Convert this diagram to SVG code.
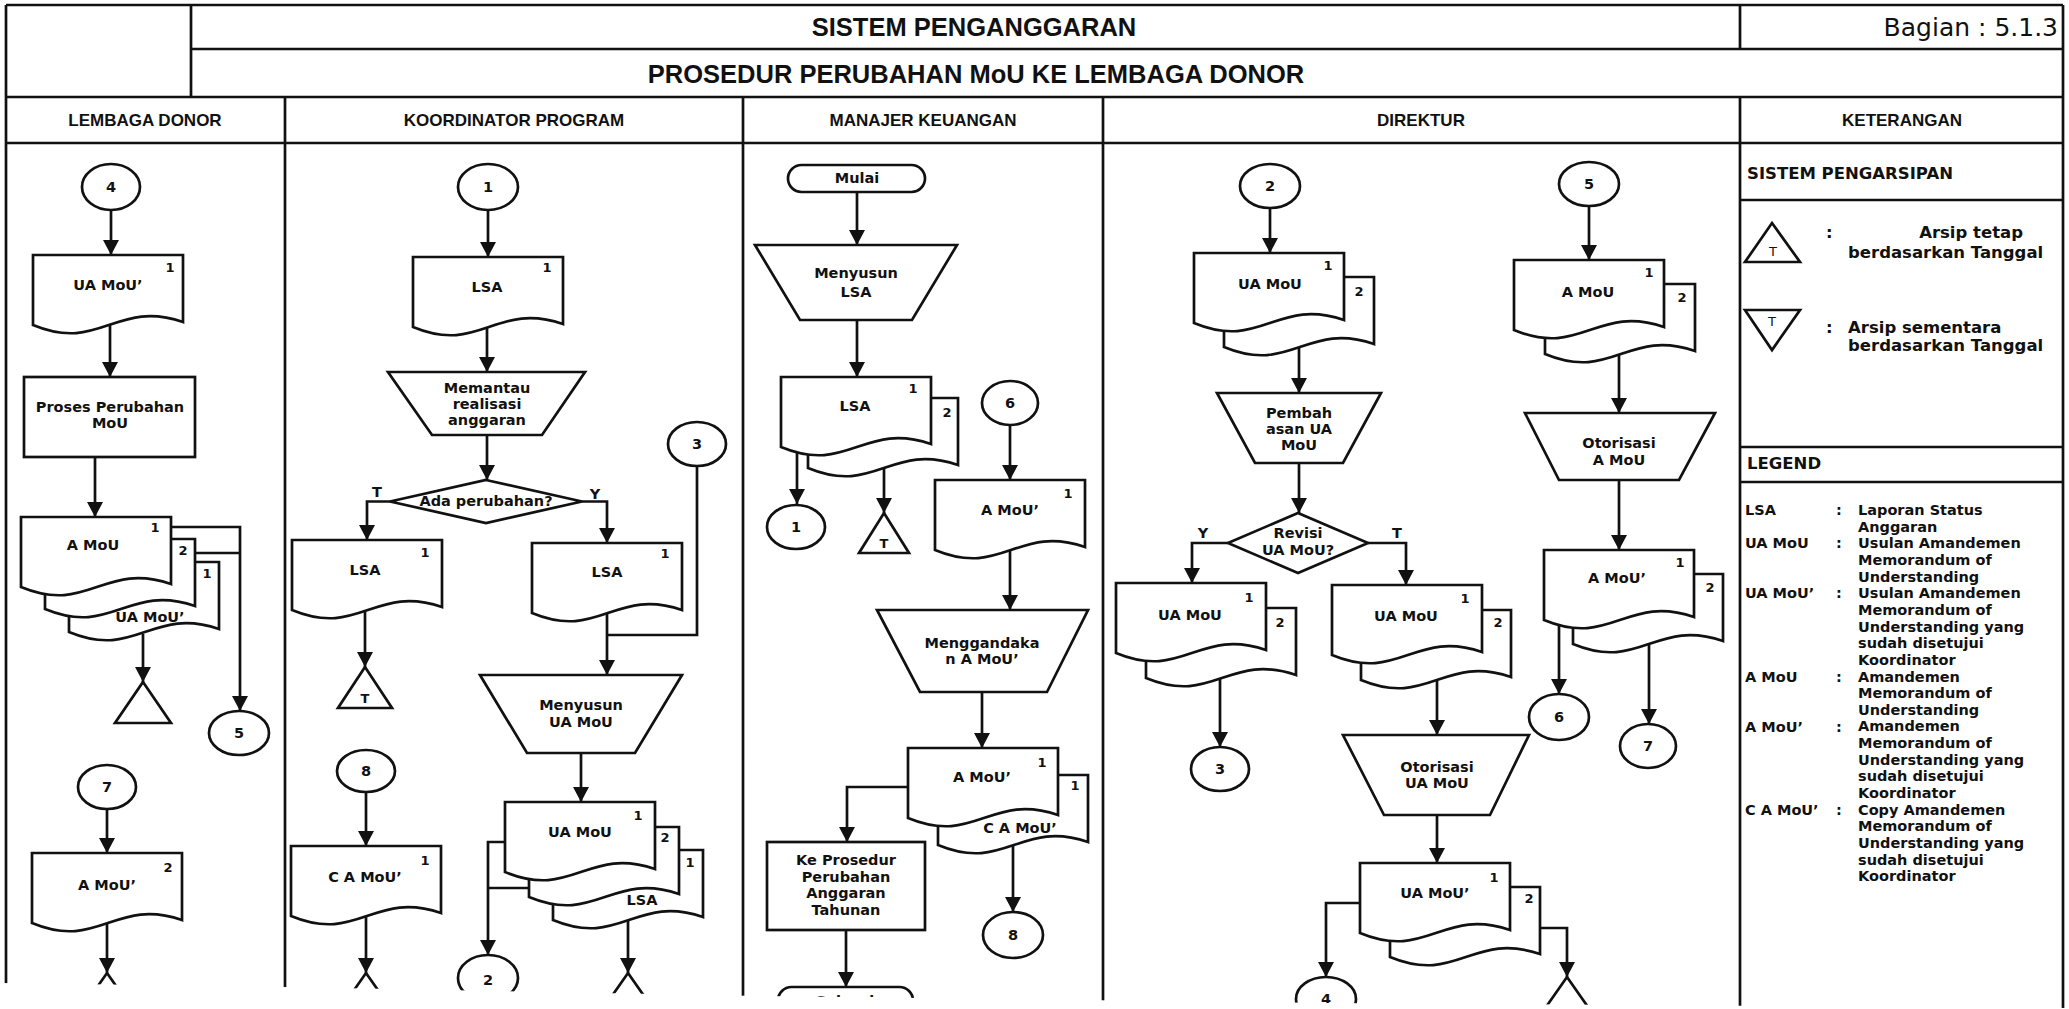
<svg xmlns="http://www.w3.org/2000/svg" width="2069" height="1009" viewBox="0 0 2069 1009">
<style>
.ln{fill:none;stroke:#111;stroke-width:2.7}
.sh{fill:#fff;stroke:#111;stroke-width:2.7}
.fr{fill:none;stroke:#111;stroke-width:2.7}
text{fill:#111}
.t{font-family:"DejaVu Sans",sans-serif;font-weight:bold;font-size:14.5px;text-anchor:middle}
.n{font-family:"DejaVu Sans",sans-serif;font-weight:bold;font-size:13px;text-anchor:middle}
.ti{font-family:"Liberation Sans",Arial,sans-serif;font-weight:bold;font-size:25.5px;text-anchor:middle}
.hd{font-family:"Liberation Sans",Arial,sans-serif;font-weight:bold;font-size:17px;text-anchor:middle}
.bg{font-family:"DejaVu Sans",sans-serif;font-size:25px;text-anchor:end}
.k{font-family:"DejaVu Sans",sans-serif;font-weight:bold;font-size:16.5px}
.lg{font-family:"DejaVu Sans",sans-serif;font-weight:bold;font-size:14.5px}
.tt{font-family:"DejaVu Sans",sans-serif;font-size:13px;text-anchor:middle}
.ar{marker-end:url(#ah)}
</style>
<defs>
<marker id="ah" viewBox="0 0 15 16" refX="15" refY="8" markerWidth="15" markerHeight="16" orient="auto" markerUnits="userSpaceOnUse"><path d="M0,0L15,8L0,16Z" fill="#111"/></marker>
<!-- flowchart document symbol, 150 x 70 with wavy bottom -->
<path id="doc" d="M0,0H150V67C82.5,44 67.5,98 0,70Z"/>
<clipPath id="page"><polygon points="0,0 2069,0 2069,1008 1326,1003 1000,999 760,996 285,987 0,983"/></clipPath>
</defs>
<rect width="2069" height="1009" fill="#fff"/>
<g clip-path="url(#page)">

<!-- frame, header rows and swimlanes -->
<g id="frame">
<path class="fr" d="M6,5H2063M6,5V1009M2063,5V1009M191,5V97M191,49H2063M1740,5V49M6,97H2063M6,143H2063M285,97V1009M743,97V1009M1103,97V1009M1740,97V1009M1740,200H2063M1740,447H2063M1740,482H2063"/>
<text class="ti" x="974" y="36">SISTEM PENGANGGARAN</text>
<text class="bg" x="2058" y="36">Bagian : 5.1.3</text>
<text class="ti" x="976" y="83">PROSEDUR PERUBAHAN MoU KE LEMBAGA DONOR</text>
<text class="hd" x="145" y="126">LEMBAGA DONOR</text>
<text class="hd" x="514" y="126">KOORDINATOR PROGRAM</text>
<text class="hd" x="923" y="126">MANAJER KEUANGAN</text>
<text class="hd" x="1421" y="126">DIREKTUR</text>
<text class="hd" x="1902" y="126">KETERANGAN</text>
</g>

<!-- connectors -->
<g id="connectors">
<path class="ln ar" d="M111,210V255"/>
<path class="ln ar" d="M110,325V377"/>
<path class="ln ar" d="M95,457V517"/>
<path class="ln ar" d="M171,527H240V711"/>
<path class="ln" d="M195,553H240"/>
<path class="ln ar" d="M143,634V682"/>
<path class="ln ar" d="M107,809V853"/>
<path class="ln ar" d="M107,923V973"/>

<path class="ln ar" d="M488,210V257"/>
<path class="ln ar" d="M487,327V372"/>
<path class="ln ar" d="M487,435V480"/>
<path class="ln ar" d="M390,501.5H367V540"/>
<path class="ln ar" d="M582,501.5H607V543"/>
<path class="ln ar" d="M365,611V667"/>
<path class="ln" d="M697,466V635H607"/>
<path class="ln ar" d="M607,613V675"/>
<path class="ln ar" d="M581,753V802"/>
<path class="ln ar" d="M505,842H488V955"/>
<path class="ln" d="M529,888H488"/>
<path class="ln ar" d="M628,920V973"/>
<path class="ln ar" d="M366,792V846"/>
<path class="ln ar" d="M366,916V973"/>

<path class="ln ar" d="M857,192V245"/>
<path class="ln ar" d="M857,320V377"/>
<path class="ln ar" d="M797,452V504"/>
<path class="ln ar" d="M884,468V513"/>
<path class="ln ar" d="M1010,425V480"/>
<path class="ln ar" d="M1010,550V610"/>
<path class="ln ar" d="M982,692V748"/>
<path class="ln ar" d="M908,787H847V842"/>
<path class="ln ar" d="M846,930V987"/>
<path class="ln ar" d="M1013,845V912"/>

<path class="ln ar" d="M1270,208V253"/>
<path class="ln ar" d="M1299,347V393"/>
<path class="ln ar" d="M1299,463V513"/>
<path class="ln ar" d="M1228,543H1192V583"/>
<path class="ln ar" d="M1368,543H1406V585"/>
<path class="ln ar" d="M1220,678V747"/>
<path class="ln ar" d="M1437,680V735"/>
<path class="ln ar" d="M1437,815V863"/>
<path class="ln ar" d="M1360,903H1326V977"/>
<path class="ln ar" d="M1540,928H1567V977"/>
<path class="ln ar" d="M1589,206V260"/>
<path class="ln ar" d="M1619,354V413"/>
<path class="ln ar" d="M1619,480V550"/>
<path class="ln ar" d="M1559,624V694"/>
<path class="ln ar" d="M1649,644V724"/>
</g>

<!-- LEMBAGA DONOR -->
<g id="ld-c4"><ellipse class="sh" cx="111" cy="187" rx="29" ry="23"/><text class="t" x="111" y="192">4</text></g>
<g id="ld-uamou"><use href="#doc" class="sh" x="33" y="255"/><text class="n" x="170" y="272">1</text><text class="t" x="108" y="290">UA MoU’</text></g>
<g id="ld-proses"><rect class="sh" x="24" y="377" width="171" height="80"/><text class="t" x="110" y="412">Proses Perubahan</text><text class="t" x="110" y="428">MoU</text></g>
<g id="ld-amou">
<use href="#doc" class="sh" x="69" y="562"/><use href="#doc" class="sh" x="45" y="539"/><use href="#doc" class="sh" x="21" y="517"/>
<text class="n" x="155" y="532">1</text><text class="t" x="93" y="550">A MoU</text>
<text class="n" x="183" y="555">2</text><text class="n" x="207" y="578">1</text>
<text class="t" x="150" y="622">UA MoU’</text>
</g>
<g id="ld-c5"><ellipse class="sh" cx="239" cy="733" rx="30" ry="22"/><text class="t" x="239" y="738">5</text></g>
<g id="ld-arsip"><polygon class="sh" points="143,682 171,723 115,723"/></g>
<g id="ld-c7"><ellipse class="sh" cx="107" cy="787" rx="29" ry="22"/><text class="t" x="107" y="792">7</text></g>
<g id="ld-amou2"><use href="#doc" class="sh" x="32" y="853"/><text class="n" x="168" y="872">2</text><text class="t" x="107" y="890">A MoU’</text></g>
<g id="ld-arsip2"><polygon class="sh" points="107,973 135,1013 79,1013"/></g>

<!-- KOORDINATOR PROGRAM -->
<g id="kp-c1"><ellipse class="sh" cx="488" cy="187" rx="30" ry="23"/><text class="t" x="488" y="192">1</text></g>
<g id="kp-lsa"><use href="#doc" class="sh" x="413" y="257"/><text class="n" x="547" y="272">1</text><text class="t" x="487" y="292">LSA</text></g>
<g id="kp-memantau"><polygon class="sh" points="388,372 585,372 542,435 432,435"/><text class="t" x="487" y="393">Memantau</text><text class="t" x="487" y="409">realisasi</text><text class="t" x="487" y="425">anggaran</text></g>
<g id="kp-ada"><polygon class="sh" points="486,480 582,501.5 486,523 390,501.5"/><text class="t" x="486" y="506">Ada perubahan?</text><text class="t" x="377" y="497">T</text><text class="t" x="595" y="499">Y</text></g>
<g id="kp-lsa-t"><use href="#doc" class="sh" x="292" y="540"/><text class="n" x="425" y="557">1</text><text class="t" x="365" y="575">LSA</text></g>
<g id="kp-arsip-t"><polygon class="sh" points="365,667 392,708 338,708"/><text class="n" x="365" y="703">T</text></g>
<g id="kp-lsa-y"><use href="#doc" class="sh" x="532" y="543"/><text class="n" x="665" y="558">1</text><text class="t" x="607" y="577">LSA</text></g>
<g id="kp-c3"><ellipse class="sh" cx="697" cy="444" rx="29" ry="22"/><text class="t" x="697" y="449">3</text></g>
<g id="kp-menyusun"><polygon class="sh" points="480,675 682,675 635,753 527,753"/><text class="t" x="581" y="710">Menyusun</text><text class="t" x="581" y="727">UA MoU</text></g>
<g id="kp-uamou">
<use href="#doc" class="sh" x="553" y="850"/><use href="#doc" class="sh" x="529" y="827"/><use href="#doc" class="sh" x="505" y="802"/>
<text class="n" x="638" y="820">1</text><text class="t" x="580" y="837">UA MoU</text>
<text class="n" x="665" y="842">2</text><text class="n" x="690" y="867">1</text>
<text class="t" x="642" y="905">LSA</text>
</g>
<g id="kp-c2"><ellipse class="sh" cx="488" cy="978" rx="30" ry="23"/><text class="t" x="488" y="985">2</text></g>
<g id="kp-arsip-lsa"><polygon class="sh" points="628,973 656,1013 600,1013"/></g>
<g id="kp-c8"><ellipse class="sh" cx="366" cy="771" rx="29" ry="21"/><text class="t" x="366" y="776">8</text></g>
<g id="kp-camou"><use href="#doc" class="sh" x="291" y="846"/><text class="n" x="425" y="865">1</text><text class="t" x="365" y="882">C A MoU’</text></g>
<g id="kp-arsip-camou"><polygon class="sh" points="366,973 394,1013 338,1013"/></g>

<!-- MANAJER KEUANGAN -->
<g id="mk-mulai"><rect class="sh" x="788" y="165" width="137" height="27" rx="13.5"/><text class="t" x="857" y="183">Mulai</text></g>
<g id="mk-menyusun"><polygon class="sh" points="755,245 957,245 912,320 800,320"/><text class="t" x="856" y="278">Menyusun</text><text class="t" x="856" y="297">LSA</text></g>
<g id="mk-lsa">
<use href="#doc" class="sh" x="808" y="398"/><use href="#doc" class="sh" x="781" y="377"/>
<text class="n" x="913" y="393">1</text><text class="t" x="855" y="411">LSA</text><text class="n" x="947" y="417">2</text>
</g>
<g id="mk-c1"><ellipse class="sh" cx="796" cy="527" rx="29" ry="22"/><text class="t" x="796" y="532">1</text></g>
<g id="mk-arsip-t"><polygon class="sh" points="884,513 909,553 859,553"/><text class="n" x="884" y="548">T</text></g>
<g id="mk-c6"><ellipse class="sh" cx="1010" cy="403" rx="28" ry="22"/><text class="t" x="1010" y="408">6</text></g>
<g id="mk-amou"><use href="#doc" class="sh" x="935" y="480"/><text class="n" x="1068" y="498">1</text><text class="t" x="1010" y="515">A MoU’</text></g>
<g id="mk-menggandakan"><polygon class="sh" points="877,610 1088,610 1047,692 920,692"/><text class="t" x="982" y="648">Menggandaka</text><text class="t" x="982" y="664">n A MoU’</text></g>
<g id="mk-amou-copy">
<use href="#doc" class="sh" x="938" y="775"/><use href="#doc" class="sh" x="908" y="748"/>
<text class="n" x="1042" y="767">1</text><text class="t" x="982" y="782">A MoU’</text>
<text class="n" x="1075" y="790">1</text><text class="t" x="1020" y="833">C A MoU’</text>
</g>
<g id="mk-keprosedur"><rect class="sh" x="767" y="842" width="158" height="88"/><text class="t" x="846" y="865">Ke Prosedur</text><text class="t" x="846" y="882">Perubahan</text><text class="t" x="846" y="898">Anggaran</text><text class="t" x="846" y="915">Tahunan</text></g>
<g id="mk-selesai"><rect class="sh" x="778" y="987" width="135" height="27" rx="13.5"/><text class="t" x="845" y="1006">Selesai</text></g>
<g id="mk-c8"><ellipse class="sh" cx="1013" cy="935" rx="30" ry="23"/><text class="t" x="1013" y="940">8</text></g>

<!-- DIREKTUR -->
<g id="dr-c2"><ellipse class="sh" cx="1270" cy="186" rx="30" ry="22"/><text class="t" x="1270" y="191">2</text></g>
<g id="dr-uamou">
<use href="#doc" class="sh" x="1224" y="277"/><use href="#doc" class="sh" x="1194" y="253"/>
<text class="n" x="1328" y="270">1</text><text class="t" x="1270" y="289">UA MoU</text><text class="n" x="1359" y="296">2</text>
</g>
<g id="dr-pembahasan"><polygon class="sh" points="1217,393 1381,393 1343,463 1255,463"/><text class="t" x="1299" y="418">Pembah</text><text class="t" x="1299" y="434">asan UA</text><text class="t" x="1299" y="450">MoU</text></g>
<g id="dr-revisi"><polygon class="sh" points="1298,513 1368,543 1298,573 1228,543"/><text class="t" x="1298" y="538">Revisi</text><text class="t" x="1298" y="555">UA MoU?</text><text class="t" x="1203" y="538">Y</text><text class="t" x="1397" y="538">T</text></g>
<g id="dr-uamou-y">
<use href="#doc" class="sh" x="1146" y="608"/><use href="#doc" class="sh" x="1116" y="583"/>
<text class="n" x="1249" y="602">1</text><text class="t" x="1190" y="620">UA MoU</text><text class="n" x="1280" y="627">2</text>
</g>
<g id="dr-c3"><ellipse class="sh" cx="1220" cy="769" rx="29" ry="22"/><text class="t" x="1220" y="774">3</text></g>
<g id="dr-uamou-t">
<use href="#doc" class="sh" x="1361" y="610"/><use href="#doc" class="sh" x="1332" y="585"/>
<text class="n" x="1465" y="603">1</text><text class="t" x="1406" y="621">UA MoU</text><text class="n" x="1498" y="627">2</text>
</g>
<g id="dr-otorisasi-ua"><polygon class="sh" points="1343,735 1529,735 1490,815 1384,815"/><text class="t" x="1437" y="772">Otorisasi</text><text class="t" x="1437" y="788">UA MoU</text></g>
<g id="dr-uamou2">
<use href="#doc" class="sh" x="1390" y="887"/><use href="#doc" class="sh" x="1360" y="863"/>
<text class="n" x="1494" y="882">1</text><text class="t" x="1435" y="898">UA MoU’</text><text class="n" x="1529" y="903">2</text>
</g>
<g id="dr-c4"><ellipse class="sh" cx="1326" cy="999" rx="30" ry="22"/><text class="t" x="1326" y="1004">4</text></g>
<g id="dr-arsip"><polygon class="sh" points="1567,977 1595,1017 1539,1017"/></g>
<g id="dr-c5"><ellipse class="sh" cx="1589" cy="184" rx="30" ry="22"/><text class="t" x="1589" y="189">5</text></g>
<g id="dr-amou">
<use href="#doc" class="sh" x="1545" y="284"/><use href="#doc" class="sh" x="1514" y="260"/>
<text class="n" x="1649" y="277">1</text><text class="t" x="1588" y="297">A MoU</text><text class="n" x="1682" y="302">2</text>
</g>
<g id="dr-otorisasi-a"><polygon class="sh" points="1525,413 1715,413 1679,480 1559,480"/><text class="t" x="1619" y="448">Otorisasi</text><text class="t" x="1619" y="465">A MoU</text></g>
<g id="dr-amou2">
<use href="#doc" class="sh" x="1573" y="574"/><use href="#doc" class="sh" x="1544" y="550"/>
<text class="n" x="1680" y="567">1</text><text class="t" x="1617" y="583">A MoU’</text><text class="n" x="1710" y="592">2</text>
</g>
<g id="dr-c6"><ellipse class="sh" cx="1559" cy="717" rx="30" ry="23"/><text class="t" x="1559" y="722">6</text></g>
<g id="dr-c7"><ellipse class="sh" cx="1648" cy="746" rx="28" ry="22"/><text class="t" x="1648" y="751">7</text></g>

<!-- KETERANGAN: filing symbols and legend -->
<g id="ket-arsip">
<text class="k" x="1747" y="179">SISTEM PENGARSIPAN</text>
<polygon class="sh" points="1772,223 1800,262 1745,262"/><text class="tt" x="1773" y="256">T</text>
<text class="k" x="1826" y="238">:</text>
<text class="k" x="2023" y="238" text-anchor="end">Arsip tetap</text>
<text class="k" x="1848" y="258">berdasarkan Tanggal</text>
<polygon class="sh" points="1745,310 1800,310 1772,350"/><text class="tt" x="1772" y="326">T</text>
<text class="k" x="1826" y="333">:</text>
<text class="k" x="1848" y="333">Arsip sementara</text>
<text class="k" x="1848" y="351">berdasarkan Tanggal</text>
</g>
<g id="ket-legend">
<text class="k" x="1747" y="469">LEGEND</text>
<text class="lg" x="1745" y="515">LSA</text>
<text class="lg" x="1745" y="548.3">UA MoU</text>
<text class="lg" x="1745" y="598.3">UA MoU’</text>
<text class="lg" x="1745" y="681.5">A MoU</text>
<text class="lg" x="1745" y="731.5">A MoU’</text>
<text class="lg" x="1745" y="814.7">C A MoU’</text>
<text class="lg" x="1836" y="515">:</text>
<text class="lg" x="1836" y="548.3">:</text>
<text class="lg" x="1836" y="598.3">:</text>
<text class="lg" x="1836" y="681.5">:</text>
<text class="lg" x="1836" y="731.5">:</text>
<text class="lg" x="1836" y="814.7">:</text>
<text class="lg" x="1858" y="515">Laporan Status<tspan x="1858" dy="16.65">Anggaran</tspan><tspan x="1858" dy="16.65">Usulan Amandemen</tspan><tspan x="1858" dy="16.65">Memorandum of</tspan><tspan x="1858" dy="16.65">Understanding</tspan><tspan x="1858" dy="16.65">Usulan Amandemen</tspan><tspan x="1858" dy="16.65">Memorandum of</tspan><tspan x="1858" dy="16.65">Understanding yang</tspan><tspan x="1858" dy="16.65">sudah disetujui</tspan><tspan x="1858" dy="16.65">Koordinator</tspan><tspan x="1858" dy="16.65">Amandemen</tspan><tspan x="1858" dy="16.65">Memorandum of</tspan><tspan x="1858" dy="16.65">Understanding</tspan><tspan x="1858" dy="16.65">Amandemen</tspan><tspan x="1858" dy="16.65">Memorandum of</tspan><tspan x="1858" dy="16.65">Understanding yang</tspan><tspan x="1858" dy="16.65">sudah disetujui</tspan><tspan x="1858" dy="16.65">Koordinator</tspan><tspan x="1858" dy="16.65">Copy Amandemen</tspan><tspan x="1858" dy="16.65">Memorandum of</tspan><tspan x="1858" dy="16.65">Understanding yang</tspan><tspan x="1858" dy="16.65">sudah disetujui</tspan><tspan x="1858" dy="16.65">Koordinator</tspan></text>
</g>
</g>
</svg>
